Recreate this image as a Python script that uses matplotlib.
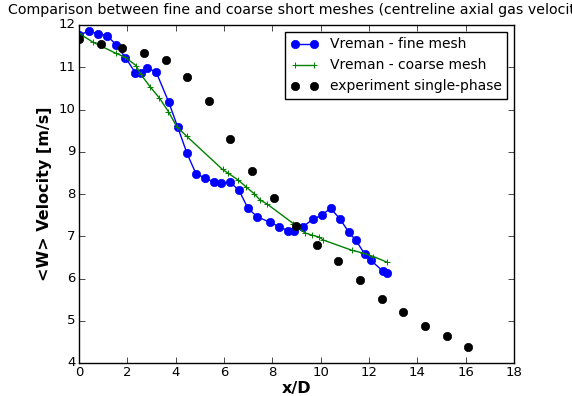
import matplotlib
matplotlib.use("Agg")
import matplotlib.pyplot as plt

plt.style.use('classic')

fine_x = [0.01, 0.41, 0.79, 1.16, 1.54, 1.92, 2.33, 2.55, 2.83, 3.19, 3.71, 4.08, 4.47, 4.84,
          5.21, 5.60, 5.86, 6.25, 6.62, 6.99, 7.38, 7.90, 8.27, 8.66, 8.91, 9.28, 9.67, 10.04,
          10.41, 10.80, 11.17, 11.45, 11.82, 12.08, 12.56, 12.73]
fine_y = [11.76, 11.86, 11.79, 11.75, 11.53, 11.23, 10.87, 10.86, 10.98, 10.89, 10.18, 9.59, 8.96, 8.48,
          8.38, 8.28, 8.25, 8.28, 8.09, 7.66, 7.46, 7.33, 7.23, 7.13, 7.13, 7.23, 7.40, 7.50,
          7.66, 7.41, 7.09, 6.91, 6.58, 6.43, 6.18, 6.12]

coarse_x = [0.0, 0.59, 1.53, 1.90, 2.36, 2.56, 2.94, 3.33, 3.70, 4.05, 4.45, 5.94, 6.18, 6.59,
            6.91, 7.24, 7.49, 7.79, 8.87, 9.35, 9.63, 9.94, 10.11, 11.28, 11.76, 12.18, 12.73]
coarse_y = [11.80, 11.59, 11.33, 11.24, 11.04, 10.83, 10.54, 10.27, 9.95, 9.59, 9.37, 8.58, 8.49, 8.33,
            8.17, 8.01, 7.86, 7.76, 7.30, 7.08, 7.03, 6.98, 6.91, 6.67, 6.60, 6.52, 6.39]

exp_x = [0.01, 0.93, 1.80, 2.69, 3.58, 4.48, 5.39, 6.26, 7.16, 8.07, 8.98, 9.83, 10.73, 11.64,
         12.54, 13.40, 14.31, 15.21, 16.11]
exp_y = [11.66, 11.54, 11.46, 11.33, 11.17, 10.76, 10.19, 9.30, 8.55, 7.90, 7.25, 6.80, 6.42, 5.96,
         5.51, 5.21, 4.87, 4.64, 4.39]

title = "Comparison between fine and coarse short meshes (centreline axial gas velocity)"

fig = plt.figure(figsize=(5.72, 3.96), dpi=100, facecolor='white')
ax = fig.add_axes([79/572, 1 - 363/396, (514-79)/572, (363-25)/396])
ax.plot(fine_x, fine_y, 'b-o', markersize=6, linewidth=1, markeredgecolor='b', label='Vreman - fine mesh')
ax.plot(coarse_x, coarse_y, '-+', color='green', markersize=5, linewidth=1, markeredgewidth=0.7,
        label='Vreman - coarse mesh')
ax.plot(exp_x, exp_y, 'o', color='black', markersize=6, linestyle='none', label='experiment single-phase')
ax.set_xlim(0, 18)
ax.set_ylim(4, 12)
ax.set_xticks(range(0, 19, 2))
ax.set_yticks(range(4, 13))
ax.tick_params(labelsize=9.5, pad=2.5)
ax.set_xlabel('x/D', fontsize=11.5, fontweight='bold', labelpad=1)
ax.set_ylabel('<W> Velocity [m/s]', fontsize=11.5, fontweight='bold', labelpad=5)
ax.set_title(title, fontsize=10.2, loc='left', x=-0.163, y=1.012)
leg = ax.legend(loc='upper right', numpoints=2, fontsize=10, borderaxespad=0.5)
fig.savefig('out.png', dpi=100, facecolor='white')
